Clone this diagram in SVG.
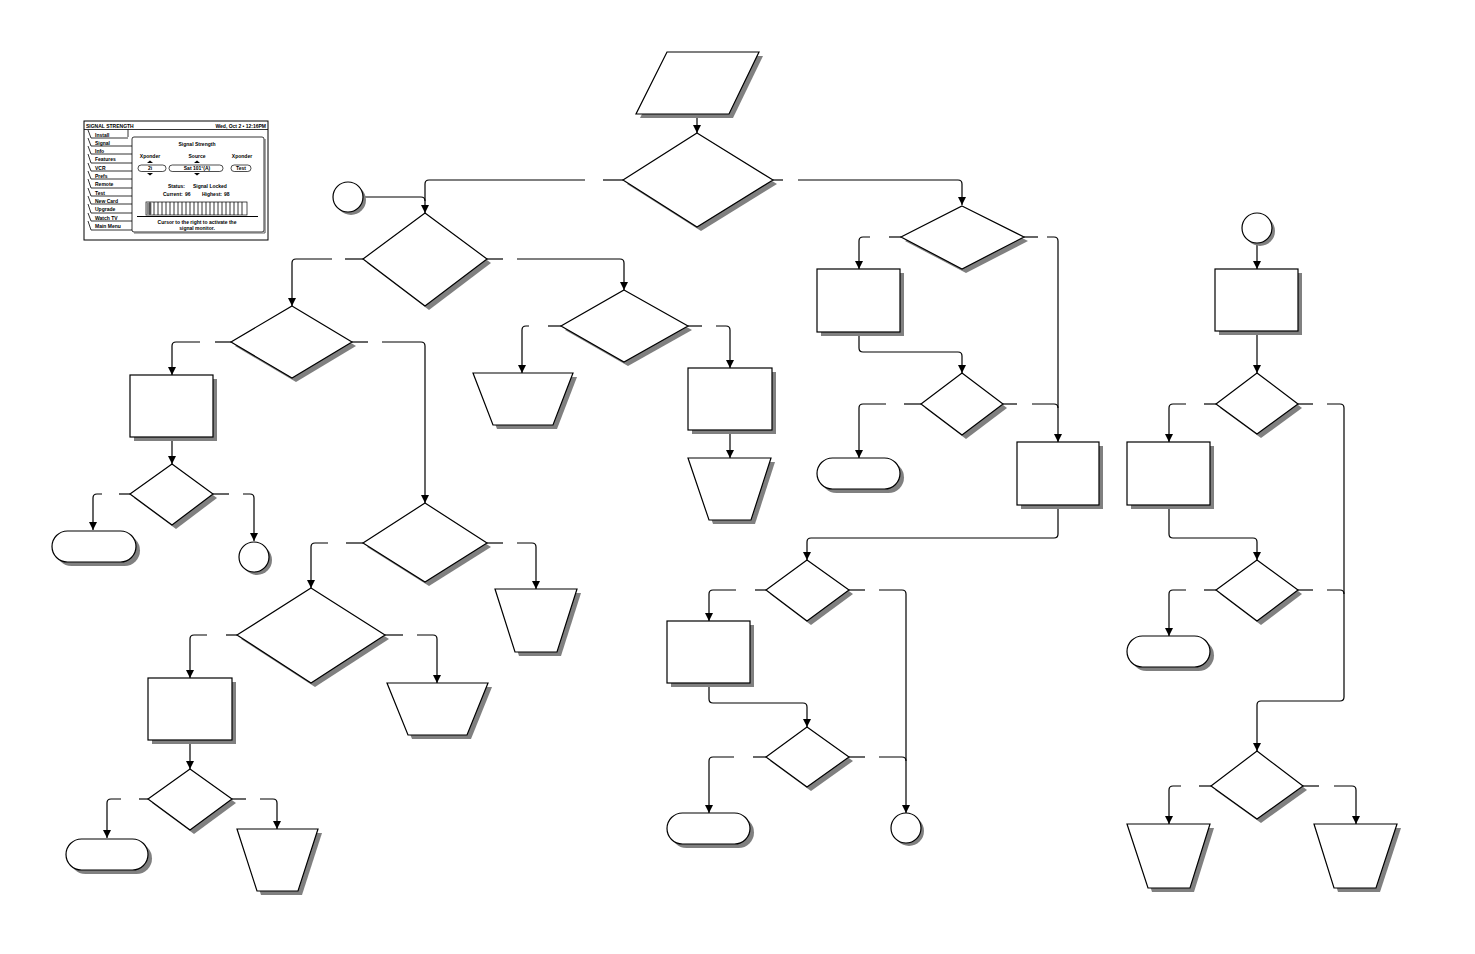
<svg xmlns="http://www.w3.org/2000/svg" width="1475" height="954" viewBox="0 0 1475 954">
<style>
.n{fill:#fff;stroke:#000;stroke-width:1.2}
.s{fill:#808080;stroke:none}
.c{fill:none;stroke:#000;stroke-width:1.2}
.t{font-family:"Liberation Sans",Arial,sans-serif;font-weight:bold;font-size:5px;fill:#000}
.tl{fill:none;stroke:#000;stroke-width:0.8}
</style>
<defs>
<marker id="a" markerUnits="userSpaceOnUse" markerWidth="8" markerHeight="8" viewBox="0 0 8 8" refX="8" refY="4" orient="auto"><path d="M0,0 L8,4 L0,8 z" fill="#000"/></marker>
</defs>
<rect width="1475" height="954" fill="#fff"/>

<g id="screenshot">
<rect x="84" y="121" width="184" height="119" fill="#fff" stroke="#000" stroke-width="1"/>
<line x1="84" y1="129.5" x2="268" y2="129.5" class="tl"/>
<text class="t" x="86" y="127.5">SIGNAL STRENGTH</text>
<text class="t" x="266" y="127.5" text-anchor="end">Wed, Oct 2 • 12:16PM</text>
<line x1="128" y1="129.5" x2="128" y2="137" class="tl"/>
<rect x="132" y="137" width="132" height="95" rx="2" fill="#fff" stroke="#000" stroke-width="0.8"/>
<line x1="265" y1="139" x2="265" y2="233" stroke="#666" stroke-width="1.2"/>
<line x1="134" y1="233" x2="265" y2="233" stroke="#666" stroke-width="1.2"/>
<g class="tl">
<path d="M88,130 L91,138 H128"/>
<path d="M88,138 L91,146 H132"/>
<path d="M88,146 L91,154 H132"/>
<path d="M88,154 L91,163 H132"/>
<path d="M88,163 L91,171 H132"/>
<path d="M88,171 L91,179 H132"/>
<path d="M88,179 L91,188 H132"/>
<path d="M88,188 L91,196 H132"/>
<path d="M88,196 L91,204 H132"/>
<path d="M88,204 L91,213 H132"/>
<path d="M88,213 L91,221 H132"/>
<path d="M88,221 L91,230 H132"/>
</g>
<text class="t" x="95" y="136.5">Install</text>
<text class="t" x="95" y="144.5">Signal</text>
<text class="t" x="95" y="152.5">Info</text>
<text class="t" x="95" y="161">Features</text>
<text class="t" x="95" y="169.5">VCR</text>
<text class="t" x="95" y="177.5">Prefs</text>
<text class="t" x="95" y="186">Remote</text>
<text class="t" x="95" y="194.5">Test</text>
<text class="t" x="95" y="202.5">New Card</text>
<text class="t" x="95" y="211">Upgrade</text>
<text class="t" x="95" y="219.5">Watch TV</text>
<text class="t" x="95" y="228">Main Menu</text>
<text class="t" x="197" y="146" text-anchor="middle">Signal Strength</text>
<text class="t" x="150" y="158" text-anchor="middle">Xponder</text>
<text class="t" x="197" y="158" text-anchor="middle">Source</text>
<text class="t" x="242" y="158" text-anchor="middle">Xponder</text>
<g fill="#000">
<path d="M147,163 L150,160.5 L153,163 z"/>
<path d="M194,163 L197,160.5 L200,163 z"/>
<path d="M147,173 L150,175.5 L153,173 z"/>
<path d="M194,173 L197,175.5 L200,173 z"/>
</g>
<rect x="138" y="165" width="28" height="6.5" rx="3.2" fill="#fff" stroke="#000" stroke-width="0.7"/>
<rect x="169" y="165" width="54" height="6.5" rx="3.2" fill="#fff" stroke="#000" stroke-width="0.7"/>
<rect x="231" y="165" width="20" height="6.5" rx="3.2" fill="#fff" stroke="#000" stroke-width="0.7"/>
<text class="t" x="150" y="170" text-anchor="middle">2i</text>
<text class="t" x="197" y="170" text-anchor="middle">Sat 101°(A)</text>
<text class="t" x="241" y="170" text-anchor="middle">Test</text>
<text class="t" x="168" y="187.5">Status:</text>
<text class="t" x="193" y="187.5">Signal Locked</text>
<text class="t" x="163" y="196">Current:</text>
<text class="t" x="185" y="196">96</text>
<text class="t" x="202" y="196">Highest:</text>
<text class="t" x="224" y="196">98</text>
<rect x="146" y="202" width="101" height="13" fill="#fff" stroke="#000" stroke-width="0.7"/>
<rect x="146.5" y="202.5" width="5" height="12" fill="#888"/>
<path d="M150,202 V215 M154,202 V215 M158,202 V215 M162,202 V215 M166,202 V215 M170,202 V215 M174,202 V215 M178,202 V215 M182,202 V215 M186,202 V215 M190,202 V215 M194,202 V215 M198,202 V215 M202,202 V215 M206,202 V215 M210,202 V215 M214,202 V215 M218,202 V215 M222,202 V215 M226,202 V215 M230,202 V215 M234,202 V215 M238,202 V215 M242,202 V215" stroke="#000" stroke-width="0.8"/>
<line x1="137" y1="216.5" x2="258" y2="216.5" stroke="#000" stroke-width="1.2"/>
<text class="t" x="197" y="223.5" text-anchor="middle">Cursor to the right to activate the</text>
<text class="t" x="197" y="229.5" text-anchor="middle">signal monitor.</text>
</g>

<g id="connectors">
<path class="c" d="M697,114 V133" marker-end="url(#a)"/>
<path class="c" d="M623,180 H603"/>
<path class="c" d="M585,180 H429 Q425,180 425,184 V213" marker-end="url(#a)"/>
<path class="c" d="M363,197 H421 Q425,197 425,201"/>
<path class="c" d="M773,180 H783"/>
<path class="c" d="M798,180 H958 Q962,180 962,184 V205" marker-end="url(#a)"/>
<path class="c" d="M487,259 H503"/>
<path class="c" d="M517,259 H620 Q624,259 624,263 V290" marker-end="url(#a)"/>
<path class="c" d="M363,259 H345"/>
<path class="c" d="M332,259 H296 Q292,259 292,263 V306" marker-end="url(#a)"/>
<path class="c" d="M352,342 H368"/>
<path class="c" d="M382,342 H421 Q425,342 425,346 V503" marker-end="url(#a)"/>
<path class="c" d="M231,342 H215"/>
<path class="c" d="M200,342 H176 Q172,342 172,346 V375" marker-end="url(#a)"/>
<path class="c" d="M172,437 V464" marker-end="url(#a)"/>
<path class="c" d="M130,494 H119"/>
<path class="c" d="M102,494 H97 Q93,494 93,498 V530" marker-end="url(#a)"/>
<path class="c" d="M213,494 H229"/>
<path class="c" d="M243,494 H250 Q254,494 254,498 V541" marker-end="url(#a)"/>
<path class="c" d="M561,326 H548"/>
<path class="c" d="M529,326 H526 Q522,326 522,330 V373" marker-end="url(#a)"/>
<path class="c" d="M688,326 H702"/>
<path class="c" d="M716,326 H726 Q730,326 730,330 V368" marker-end="url(#a)"/>
<path class="c" d="M730,430 V458" marker-end="url(#a)"/>
<path class="c" d="M363,543 H346"/>
<path class="c" d="M328,543 H315 Q311,543 311,547 V588" marker-end="url(#a)"/>
<path class="c" d="M487,543 H503"/>
<path class="c" d="M517,543 H532 Q536,543 536,547 V589" marker-end="url(#a)"/>
<path class="c" d="M385,635 H403"/>
<path class="c" d="M417,635 H433 Q437,635 437,639 V683" marker-end="url(#a)"/>
<path class="c" d="M237,635 H226"/>
<path class="c" d="M207,635 H194 Q190,635 190,639 V678" marker-end="url(#a)"/>
<path class="c" d="M190,740 V769" marker-end="url(#a)"/>
<path class="c" d="M148,799 H139"/>
<path class="c" d="M121,799 H111 Q107,799 107,803 V838" marker-end="url(#a)"/>
<path class="c" d="M232,799 H246"/>
<path class="c" d="M260,799 H273 Q277,799 277,803 V829" marker-end="url(#a)"/>
<path class="c" d="M901,237 H889"/>
<path class="c" d="M870,237 H863 Q859,237 859,241 V269" marker-end="url(#a)"/>
<path class="c" d="M1024,237 H1038"/>
<path class="c" d="M1047,237 H1054 Q1058,237 1058,241 V442" marker-end="url(#a)"/>
<path class="c" d="M859,332 V348 Q859,352 863,352 H958 Q962,352 962,356 V373" marker-end="url(#a)"/>
<path class="c" d="M921,404 H904"/>
<path class="c" d="M886,404 H863 Q859,404 859,408 V458" marker-end="url(#a)"/>
<path class="c" d="M1003,404 H1017"/>
<path class="c" d="M1032,404 H1054 Q1058,404 1058,408"/>
<path class="c" d="M1058,505 V534 Q1058,538 1054,538 H811 Q807,538 807,542 V560" marker-end="url(#a)"/>
<path class="c" d="M766,590 H755"/>
<path class="c" d="M736,590 H713 Q709,590 709,594 V621" marker-end="url(#a)"/>
<path class="c" d="M849,590 H865"/>
<path class="c" d="M879,590 H902 Q906,590 906,594 V813" marker-end="url(#a)"/>
<path class="c" d="M709,683 V699 Q709,703 713,703 H803 Q807,703 807,707 V727" marker-end="url(#a)"/>
<path class="c" d="M766,757 H753"/>
<path class="c" d="M734,757 H713 Q709,757 709,761 V813" marker-end="url(#a)"/>
<path class="c" d="M849,757 H865"/>
<path class="c" d="M879,757 H902 Q906,757 906,761"/>
<path class="c" d="M1257,243 V269" marker-end="url(#a)"/>
<path class="c" d="M1257,331 V373" marker-end="url(#a)"/>
<path class="c" d="M1216,404 H1204"/>
<path class="c" d="M1186,404 H1173 Q1169,404 1169,408 V442" marker-end="url(#a)"/>
<path class="c" d="M1298,404 H1313"/>
<path class="c" d="M1327,404 H1340 Q1344,404 1344,408 V697 Q1344,701 1340,701 H1261 Q1257,701 1257,705 V751" marker-end="url(#a)"/>
<path class="c" d="M1169,505 V534 Q1169,538 1173,538 H1253 Q1257,538 1257,542 V560" marker-end="url(#a)"/>
<path class="c" d="M1216,590 H1204"/>
<path class="c" d="M1186,590 H1173 Q1169,590 1169,594 V636" marker-end="url(#a)"/>
<path class="c" d="M1298,590 H1313"/>
<path class="c" d="M1327,590 H1340 Q1344,590 1344,594"/>
<path class="c" d="M1211,786 H1199"/>
<path class="c" d="M1181,786 H1173 Q1169,786 1169,790 V824" marker-end="url(#a)"/>
<path class="c" d="M1303,786 H1319"/>
<path class="c" d="M1334,786 H1352 Q1356,786 1356,790 V824" marker-end="url(#a)"/>
</g>

<g id="n-input"><polygon class="s" points="671,56 763,56 733,118 640,118"/><polygon class="n" points="667,52 759,52 729,114 636,114"/></g>
<g id="n-d1"><polygon class="s" points="701,137 777,184 701,231 627,184"/><polygon class="n" points="697,133 773,180 697,227 623,180"/></g>
<g id="n-c1"><circle class="s" cx="351" cy="200" r="15"/><circle class="n" cx="348" cy="197" r="15"/></g>
<g id="n-d2"><polygon class="s" points="429,217 491,263 429,310 367,263"/><polygon class="n" points="425,213 487,259 425,306 363,259"/></g>
<g id="n-d3"><polygon class="s" points="628,294 692,330 628,366 565,330"/><polygon class="n" points="624,290 688,326 624,362 561,326"/></g>
<g id="n-d4"><polygon class="s" points="296,310 356,346 296,382 235,346"/><polygon class="n" points="292,306 352,342 292,378 231,342"/></g>
<g id="n-r1"><rect class="s" x="134" y="379" width="83" height="62"/><rect class="n" x="130" y="375" width="83" height="62"/></g>
<g id="n-d6"><polygon class="s" points="176,468 217,498 176,529 134,498"/><polygon class="n" points="172,464 213,494 172,525 130,494"/></g>
<g id="n-t1"><rect class="s" x="56" y="535" width="84" height="31" rx="15.5"/><rect class="n" x="52" y="531" width="84" height="31" rx="15.5"/></g>
<g id="n-c2"><circle class="s" cx="257" cy="560" r="15"/><circle class="n" cx="254" cy="557" r="15"/></g>
<g id="n-m1"><polygon class="s" points="477,377 577,377 557,429 497,429"/><polygon class="n" points="473,373 573,373 553,425 493,425"/></g>
<g id="n-r2"><rect class="s" x="692" y="372" width="84" height="62"/><rect class="n" x="688" y="368" width="84" height="62"/></g>
<g id="n-m2"><polygon class="s" points="692,462 775,462 755,524 713,524"/><polygon class="n" points="688,458 771,458 751,520 709,520"/></g>
<g id="n-d5"><polygon class="s" points="429,507 491,547 429,586 367,547"/><polygon class="n" points="425,503 487,543 425,582 363,543"/></g>
<g id="n-m3"><polygon class="s" points="499,593 581,593 561,656 519,656"/><polygon class="n" points="495,589 577,589 557,652 515,652"/></g>
<g id="n-d7"><polygon class="s" points="315,592 389,639 315,687 241,639"/><polygon class="n" points="311,588 385,635 311,683 237,635"/></g>
<g id="n-m4"><polygon class="s" points="391,687 492,687 471,739 412,739"/><polygon class="n" points="387,683 488,683 467,735 408,735"/></g>
<g id="n-r3"><rect class="s" x="152" y="682" width="84" height="62"/><rect class="n" x="148" y="678" width="84" height="62"/></g>
<g id="n-d8"><polygon class="s" points="194,773 236,803 194,834 152,803"/><polygon class="n" points="190,769 232,799 190,830 148,799"/></g>
<g id="n-t2"><rect class="s" x="70" y="843" width="82" height="31" rx="15.5"/><rect class="n" x="66" y="839" width="82" height="31" rx="15.5"/></g>
<g id="n-m5"><polygon class="s" points="241,833 322,833 302,895 261,895"/><polygon class="n" points="237,829 318,829 298,891 257,891"/></g>
<g id="n-d9"><polygon class="s" points="966,210 1028,241 966,273 905,241"/><polygon class="n" points="962,206 1024,237 962,269 901,237"/></g>
<g id="n-r4"><rect class="s" x="821" y="273" width="83" height="63"/><rect class="n" x="817" y="269" width="83" height="63"/></g>
<g id="n-d10"><polygon class="s" points="966,377 1007,408 966,439 925,408"/><polygon class="n" points="962,373 1003,404 962,435 921,404"/></g>
<g id="n-t3"><rect class="s" x="821" y="462" width="83" height="31" rx="15.5"/><rect class="n" x="817" y="458" width="83" height="31" rx="15.5"/></g>
<g id="n-r5"><rect class="s" x="1021" y="446" width="82" height="63"/><rect class="n" x="1017" y="442" width="82" height="63"/></g>
<g id="n-d11"><polygon class="s" points="811,564 853,594 811,625 770,594"/><polygon class="n" points="807,560 849,590 807,621 766,590"/></g>
<g id="n-r6"><rect class="s" x="671" y="625" width="83" height="62"/><rect class="n" x="667" y="621" width="83" height="62"/></g>
<g id="n-d12"><polygon class="s" points="811,731 853,761 811,791 770,761"/><polygon class="n" points="807,727 849,757 807,787 766,757"/></g>
<g id="n-t4"><rect class="s" x="671" y="817" width="83" height="31" rx="15.5"/><rect class="n" x="667" y="813" width="83" height="31" rx="15.5"/></g>
<g id="n-c3"><circle class="s" cx="909" cy="831" r="15"/><circle class="n" cx="906" cy="828" r="15"/></g>
<g id="n-c4"><circle class="s" cx="1260" cy="231" r="15"/><circle class="n" cx="1257" cy="228" r="15"/></g>
<g id="n-r7"><rect class="s" x="1219" y="273" width="83" height="62"/><rect class="n" x="1215" y="269" width="83" height="62"/></g>
<g id="n-d13"><polygon class="s" points="1261,377 1302,408 1261,438 1220,408"/><polygon class="n" points="1257,373 1298,404 1257,434 1216,404"/></g>
<g id="n-r8"><rect class="s" x="1131" y="446" width="83" height="63"/><rect class="n" x="1127" y="442" width="83" height="63"/></g>
<g id="n-d14"><polygon class="s" points="1261,564 1302,594 1261,625 1220,594"/><polygon class="n" points="1257,560 1298,590 1257,621 1216,590"/></g>
<g id="n-t5"><rect class="s" x="1131" y="640" width="83" height="31" rx="15.5"/><rect class="n" x="1127" y="636" width="83" height="31" rx="15.5"/></g>
<g id="n-d15"><polygon class="s" points="1261,755 1307,790 1261,823 1215,790"/><polygon class="n" points="1257,751 1303,786 1257,819 1211,786"/></g>
<g id="n-m6"><polygon class="s" points="1131,828 1214,828 1194,892 1152,892"/><polygon class="n" points="1127,824 1210,824 1190,888 1148,888"/></g>
<g id="n-m7"><polygon class="s" points="1318,828 1401,828 1380,892 1338,892"/><polygon class="n" points="1314,824 1397,824 1376,888 1334,888"/></g>
</svg>
